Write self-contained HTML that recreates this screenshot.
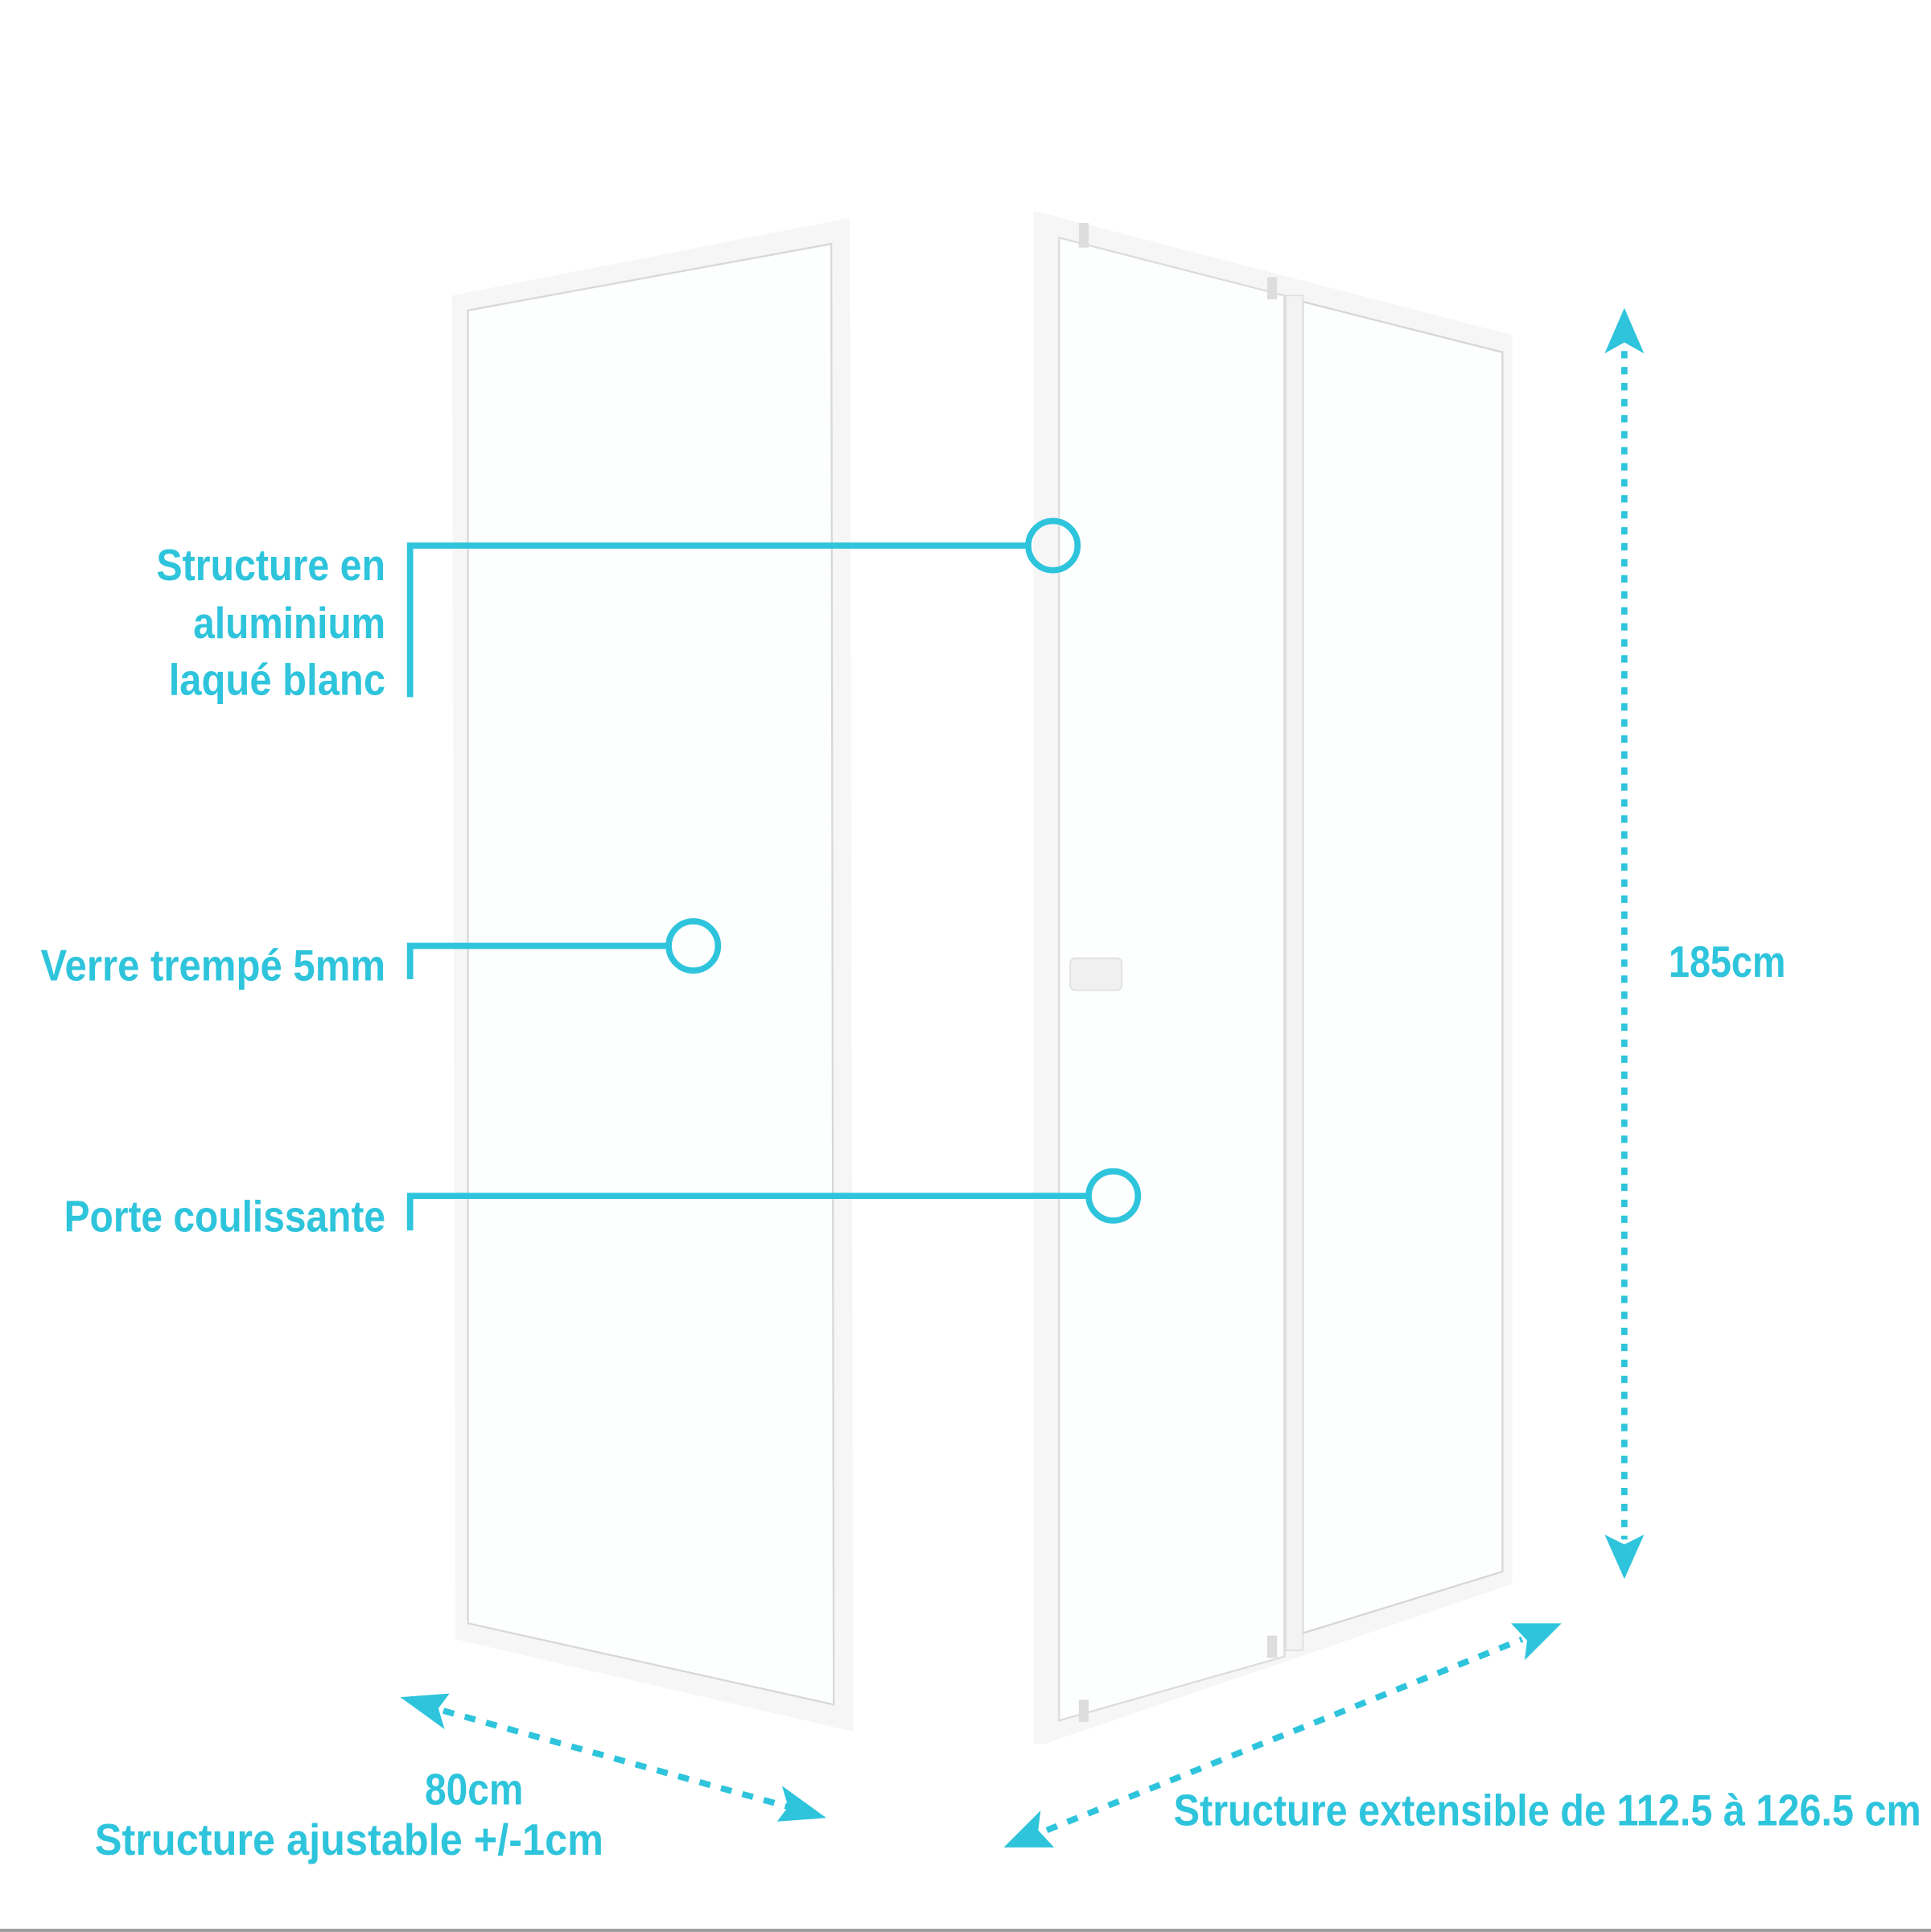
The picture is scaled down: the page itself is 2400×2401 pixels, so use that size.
<!DOCTYPE html>
<html><head><meta charset="utf-8"><style>
html,body{margin:0;padding:0;background:#fff;}
svg{display:block;}
text{font-family:"Liberation Sans",sans-serif;fill:#2ec4dc;font-weight:bold;}
</style></head><body>
<svg width="2400" height="2401" viewBox="0 0 1568 1568.65" xmlns="http://www.w3.org/2000/svg">
<rect x="0" y="0" width="1568" height="1569" fill="#fff"/>
<!-- left panel -->
<polygon points="367,240 690,177 693,1406 370,1331" fill="#f6f6f6"/>
<polygon points="380,252 675,198 677,1384 380,1318" fill="#fdfefe" stroke="#d8d8d8" stroke-width="1.5"/>
<!-- right panel frame -->
<polygon points="839,171 1228,272 1228,1286 848,1416 839,1416" fill="#f6f6f6"/>
<polygon points="860,193 1043,240 1043,1345 860,1397" fill="#fdfefe" stroke="#dcdcdc" stroke-width="1.5"/>
<polygon points="1058,245 1220,286 1220,1276 1058,1326" fill="#fdfefe" stroke="#d6d6d6" stroke-width="1.5"/>
<rect x="1044" y="240" width="14" height="1100" fill="#f3f3f3" stroke="#dcdcdc" stroke-width="1"/>
<rect x="869" y="778" width="42" height="26" rx="4" fill="#f0f0f0" stroke="#ddd"/>
<rect x="876" y="181" width="8" height="20" fill="#ddd"/><rect x="1029" y="225" width="8" height="18" fill="#ddd"/>
<rect x="876" y="1380" width="8" height="18" fill="#ddd"/><rect x="1029" y="1328" width="8" height="18" fill="#ddd"/>
<!-- callouts -->
<g stroke="#2ec4dc" stroke-width="5" fill="none">
<polyline points="333,566 333,443 835,443"/>
<circle cx="855" cy="443" r="20" fill="none"/>
<polyline points="333,795 333,768 543,768"/>
<circle cx="563" cy="768" r="20"/>
<polyline points="333,999 333,971 884,971"/>
<circle cx="904" cy="971" r="20"/>
</g>
<g font-size="36" text-anchor="end">
<text x="313" y="471" textLength="186" lengthAdjust="spacingAndGlyphs">Structure en</text>
<text x="313" y="518" textLength="156" lengthAdjust="spacingAndGlyphs">aluminium</text>
<text x="313" y="564" textLength="176" lengthAdjust="spacingAndGlyphs">laqué blanc</text>
<text x="313" y="796" textLength="280" lengthAdjust="spacingAndGlyphs">Verre trempé 5mm</text>
<text x="313" y="1000" textLength="261" lengthAdjust="spacingAndGlyphs">Porte coulissante</text>
</g>
<!-- vertical dimension -->
<line x1="1319" y1="285" x2="1319" y2="1250" stroke="#2ec4dc" stroke-width="5" stroke-dasharray="6,7"/>
<polygon points="1319,250 1335,287 1319,278 1303,287" fill="#2ec4dc"/>
<polygon points="1319,1282 1335,1246 1319,1254 1303,1246" fill="#2ec4dc"/>
<text x="1355" y="793" font-size="36" textLength="95" lengthAdjust="spacingAndGlyphs">185cm</text>
<!-- left bottom dimension -->
<line x1="360" y1="1389" x2="640" y2="1467" stroke="#2ec4dc" stroke-width="5" stroke-dasharray="9,9"/>
<polygon points="325,1378 365,1375 356,1387 361,1404" fill="#2ec4dc"/>
<polygon points="671,1476 631,1479 640,1467 635,1450" fill="#2ec4dc"/>
<text x="385" y="1465" font-size="36" text-anchor="middle" textLength="80" lengthAdjust="spacingAndGlyphs">80cm</text>
<text x="77" y="1506" font-size="36" textLength="413" lengthAdjust="spacingAndGlyphs">Structure ajustable +/-1cm</text>
<!-- right bottom dimension -->
<line x1="850" y1="1486" x2="1236" y2="1331" stroke="#2ec4dc" stroke-width="5" stroke-dasharray="9,9"/>
<polygon points="815,1500 845,1470 843,1486 856,1500" fill="#2ec4dc"/>
<polygon points="1268,1318 1238,1348 1240,1332 1227,1318" fill="#2ec4dc"/>
<text x="953" y="1482" font-size="36" textLength="607" lengthAdjust="spacingAndGlyphs">Structure extensible de 112.5 à 126.5 cm</text>
<rect x="0" y="1566" width="1568" height="3" fill="#a0a0a0"/>
</svg>
</body></html>
